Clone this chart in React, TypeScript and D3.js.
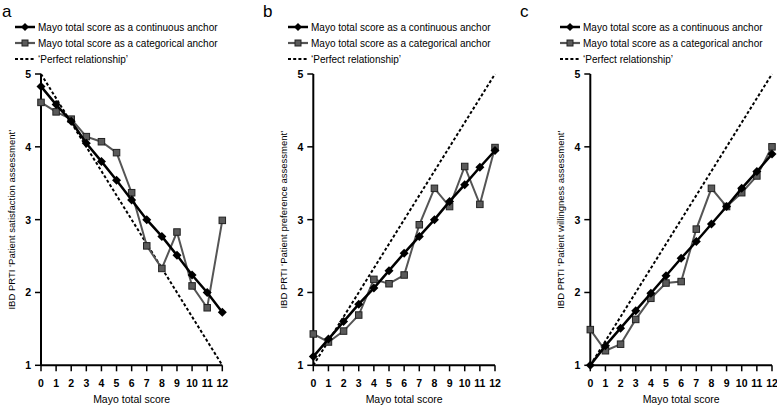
import React from "react";
import * as d3 from "d3";

const scores = [0, 1, 2, 3, 4, 5, 6, 7, 8, 9, 10, 11, 12];
const yTicks = [1, 2, 3, 4, 5];

const panelLetters = ["a", "b", "c"];
const yTitles = [
  "IBD PRTI \u2018Patient satisfaction assessment\u2019",
  "IBD PRTI \u2018Patient preference assessment\u2019",
  "IBD PRTI \u2018Patient willingness assessment\u2019",
];

const contA = [4.83, 4.58, 4.35, 4.05, 3.8, 3.54, 3.27, 3.0, 2.77, 2.51, 2.24, 2.0, 1.73];
const catA = [4.61, 4.48, 4.38, 4.14, 4.07, 3.92, 3.37, 2.64, 2.33, 2.83, 2.09, 1.79, 2.99];
const perfectA = [5, 1];

const contB = [1.12, 1.36, 1.6, 1.84, 2.06, 2.3, 2.54, 2.77, 3.0, 3.25, 3.48, 3.72, 3.95];
const catB = [1.43, 1.32, 1.47, 1.69, 2.18, 2.12, 2.24, 2.93, 3.43, 3.18, 3.73, 3.21, 3.99];
const perfectB = [1, 5];

const contC = [1.0, 1.27, 1.51, 1.75, 1.99, 2.23, 2.47, 2.7, 2.94, 3.18, 3.43, 3.66, 3.9];
const catC = [1.49, 1.2, 1.29, 1.63, 1.92, 2.13, 2.15, 2.87, 3.43, 3.18, 3.37, 3.6, 4.0];
const perfectC = [1, 5];

const legendLabels = [
  "Mayo total score as a continuous anchor",
  "Mayo total score as a categorical anchor",
  "\u2018Perfect relationship\u2019",
];

const FONT = "'Liberation Sans', Arial, Helvetica, sans-serif";

const panels = [
  { letter: panelLetters[0], title: yTitles[0], cont: contA, cat: catA, perfect: perfectA, x0: 41, x1: 222.3, letterX: 2, legendX: 15 },
  { letter: panelLetters[1], title: yTitles[1], cont: contB, cat: catB, perfect: perfectB, x0: 313.3, x1: 495, letterX: 263, legendX: 288 },
  { letter: panelLetters[2], title: yTitles[2], cont: contC, cat: catC, perfect: perfectC, x0: 590.3, x1: 772, letterX: 520, legendX: 560 },
];

const Y_TOP = 74;
const Y_BOT = 365.3;

function Diamond({ cx, cy, r }: { cx: number; cy: number; r: number }) {
  return <path d={`M${cx},${cy - r}L${cx + r},${cy}L${cx},${cy + r}L${cx - r},${cy}Z`} fill="#000" />;
}

function Square({ cx, cy, s }: { cx: number; cy: number; s: number }) {
  return <rect x={cx - s / 2} y={cy - s / 2} width={s} height={s} fill="#5a5a5a" stroke="#222" strokeWidth={1} />;
}

function Panel({ p }: { p: (typeof panels)[number] }) {
  const x = d3.scaleLinear().domain([0, 12]).range([p.x0, p.x1]);
  const y = d3.scaleLinear().domain([1, 5]).range([Y_BOT, Y_TOP]);
  const line = d3
    .line<number>()
    .x((_, i) => x(scores[i]))
    .y((d) => y(d));
  const perfLine = d3
    .line<number>()
    .x((_, i) => x(i === 0 ? 0 : 12))
    .y((d) => y(d));
  const ly = [27, 43, 59];
  const lx = p.legendX;
  return (
    <g fontFamily={FONT}>
      <text x={p.letterX} y={17} fontSize={17}>
        {p.letter}
      </text>
      {/* legend */}
      <line x1={lx} x2={lx + 20} y1={ly[0]} y2={ly[0]} stroke="#000" strokeWidth={2.5} />
      <Diamond cx={lx + 10} cy={ly[0]} r={4} />
      <text x={lx + 23} y={ly[0] + 3.5} fontSize={10}>{legendLabels[0]}</text>
      <line x1={lx} x2={lx + 20} y1={ly[1]} y2={ly[1]} stroke="#555" strokeWidth={2.2} />
      <Square cx={lx + 10} cy={ly[1]} s={6} />
      <text x={lx + 23} y={ly[1] + 3.5} fontSize={10}>{legendLabels[1]}</text>
      <line x1={lx} x2={lx + 20} y1={ly[2]} y2={ly[2]} stroke="#000" strokeWidth={2} strokeDasharray="3,2.2" />
      <text x={lx + 23} y={ly[2] + 3.5} fontSize={10}>{legendLabels[2]}</text>

      {/* axes */}
      <line x1={p.x0} x2={p.x0} y1={Y_TOP} y2={Y_BOT} stroke="#000" strokeWidth={2} />
      <line x1={p.x0} x2={p.x1} y1={Y_BOT} y2={Y_BOT} stroke="#000" strokeWidth={2} />
      {yTicks.map((t) => (
        <g key={t}>
          <line x1={p.x0 - 6} x2={p.x0} y1={y(t)} y2={y(t)} stroke="#000" strokeWidth={1.5} />
          <text x={p.x0 - 10} y={y(t) + 4} fontSize={10.5} fontWeight="bold" textAnchor="end">{t}</text>
        </g>
      ))}
      {scores.map((t) => (
        <g key={t}>
          <line x1={x(t)} x2={x(t)} y1={Y_BOT} y2={Y_BOT + 6} stroke="#000" strokeWidth={1.5} />
          <text x={x(t)} y={Y_BOT + 22} fontSize={10.5} fontWeight="bold" textAnchor="middle">{t}</text>
        </g>
      ))}
      <text x={(p.x0 + p.x1) / 2} y={403} fontSize={10.5} textAnchor="middle">Mayo total score</text>
      <text
        transform={`translate(${p.x0 - 26},${(Y_TOP + Y_BOT) / 2}) rotate(-90)`}
        fontSize={9.5}
        textAnchor="middle"
      >
        {p.title}
      </text>

      {/* series */}
      <path d={perfLine(p.perfect) || ""} fill="none" stroke="#000" strokeWidth={2} strokeDasharray="3,2.2" />
      <path d={line(p.cat) || ""} fill="none" stroke="#555" strokeWidth={2} />
      {p.cat.map((v, i) => (
        <Square key={i} cx={x(scores[i])} cy={y(v)} s={6.5} />
      ))}
      <path d={line(p.cont) || ""} fill="none" stroke="#000" strokeWidth={2.5} />
      {p.cont.map((v, i) => (
        <Diamond key={i} cx={x(scores[i])} cy={y(v)} r={4.5} />
      ))}
    </g>
  );
}

export default function App() {
  return (
    <svg width={777} height={406} style={{ position: "absolute", left: 0, top: 0, background: "#fff" }}>
      <rect width={777} height={406} fill="#fff" />
      {panels.map((p) => (
        <Panel key={p.letter} p={p} />
      ))}
    </svg>
  );
}
